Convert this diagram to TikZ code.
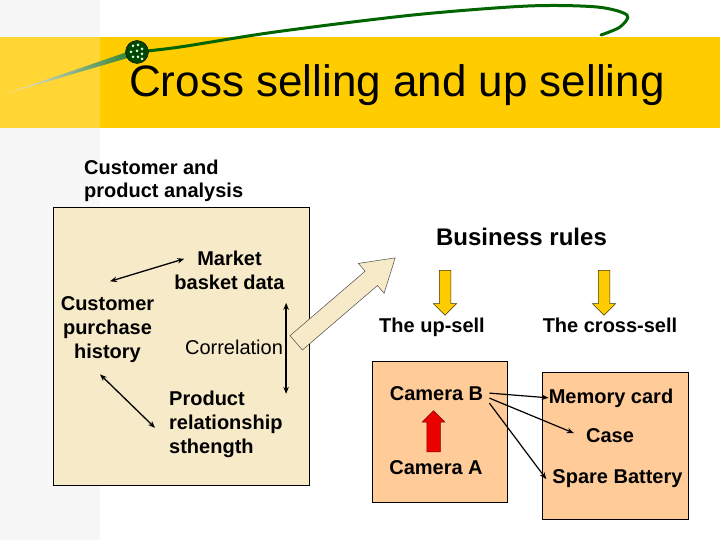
\documentclass[tikz,border=0pt]{standalone}
\usepackage{fontspec}
\setmainfont{Liberation Sans}
\usetikzlibrary{calc,arrows.meta,shapes.arrows}
\definecolor{BandGold}{RGB}{255,204,0}
\definecolor{PanelBeige}{RGB}{246,234,200}
\definecolor{PeachBox}{RGB}{255,204,153}
\definecolor{LeafGreen}{RGB}{0,100,0}
\definecolor{ArrowRed}{RGB}{235,0,0}
\tikzset{
	panel/.style={draw=black,line width=0.6pt,inner sep=0pt},
	txt/.style={font=\fontsize{20}{24}\selectfont\bfseries,inner sep=0pt,anchor=base},
	link/.style={line width=1.3pt,<->,>={Stealth[length=7pt,width=5.5pt]}},
	push/.style={line width=1.2pt,->,>={Stealth[length=7pt,width=5.5pt]}},
	blk/.style={single arrow,line width=0.5pt,inner xsep=0pt,minimum width=0pt,anchor=tail},
}

\begin{document}
\begin{tikzpicture}[x=1pt,y=-1pt]
	\useasboundingbox (0,0) rectangle (720,540);
	% faint strip on the left and the title band
	\fill[black!3] (0,0) rectangle (100,540);
	\fill[BandGold] (0,37) rectangle (720,128);
	\fill[white,opacity=.2] (0,37) rectangle (100,128);
	\shade[left color=black!8,right color=LeafGreen!80] (8,93) -- (130,51) -- (131,57) -- cycle;
	\draw[LeafGreen,line width=3pt,line cap=round] plot[smooth] coordinates
		{(137,52) (180,47) (275,32) (413,15) (528,6) (597,7) (627,15) (620,27) (601,35)};
	\node[circle,draw=black,fill=LeafGreen!70!black,minimum size=23pt,inner sep=0pt] (bead) at (137,52) {};
	\foreach \dx/\dy in {-4/-6,1/-7,5/-3,-6/0,0/-1,5/2,-4/5,1/5,5/7}
		\fill[white!85!green] ($(bead.center)+(\dx,\dy)$) circle (1.5pt);
	\node[font=\fontsize{44}{50}\selectfont,inner sep=0pt,anchor=base] (title) at (397,97) {Cross selling and up selling};

	% panels
	\node[panel,fill=PanelBeige,minimum width=256pt,minimum height=278pt] (analysis) at (181,346) {};
	\node[panel,fill=PeachBox,minimum width=135pt,minimum height=141pt] (upbox) at (439.5,431.5) {};
	\node[panel,fill=PeachBox,minimum width=146pt,minimum height=147pt] (crossbox) at (615,445.5) {};

	% texts (base of a wrapped text is its last line)
	\node[txt,anchor=base west,align=left] (head) at (84,198) {Customer and\\product analysis};
	\node[txt,align=center] (market) at (229.5,289) {Market\\basket data};
	\node[txt,align=center] (hist) at (107.5,358) {Customer\\purchase\\history};
	\node[txt,font=\fontsize{20}{24}\selectfont] (corr) at (234,354) {Correlation};
	\node[txt,anchor=base west,align=left] (prod) at (169,453) {Product\\relationship\\sthength};
	\node[txt,font=\fontsize{24}{28}\selectfont\bfseries] (rules) at (521.5,245) {Business rules};
	\node[txt] (upsell) at (432,332) {The up-sell};
	\node[txt] (crosssell) at (610,332) {The cross-sell};
	\node[txt] (camB) at (436.5,400) {Camera B};
	\node[txt] (camA) at (436,474) {Camera A};
	\node[txt] (mem) at (611,403) {Memory card};
	\node[txt] (case) at (610,442) {Case};
	\node[txt] (spare) at (617.5,483) {Spare Battery};

	% block arrows
	\node[blk,draw=black!70,fill=PanelBeige,inner ysep=9.2pt,single arrow head extend=10.25pt,
		single arrow tip angle=64,minimum height=130.5pt,rotate=40.65] (flow) at (296,343) {};
	\foreach \n/\x in {upflow/445,crossflow/604}
		\node[blk,draw=black!75!BandGold,fill=BandGold,inner ysep=5.5pt,single arrow head extend=6pt,
			minimum height=45pt,rotate=-90] (\n) at (\x,270) {};
	\node[blk,draw=ArrowRed!55!black,fill=ArrowRed,inner ysep=6.5pt,single arrow head extend=4.5pt,
		minimum height=41pt,rotate=90] (upgrade) at (433.5,452) {};

	% links
	\draw[link] ([shift={(2.5,-14.5)}]hist.north) -- ([shift={(10,8.5)}]market.north west);
	\draw[link] ([shift={(3,-44)}]corr.east) -- ([shift={(3,47)}]corr.east);
	\draw[link] ([shift={(-7.5,12)}]hist.south) -- ([shift={(-14,37.5)}]prod.north west);
	\draw[push] ([xshift=6pt]camB.east) -- (mem.west);
	\draw[push] ([shift={(6,5)}]camB.east) -- ([shift={(-12,-2)}]case.west);
	\draw[push] ([shift={(6,10)}]camB.east) -- ([shift={(-6,1)}]spare.west);
\end{tikzpicture}
\end{document}
